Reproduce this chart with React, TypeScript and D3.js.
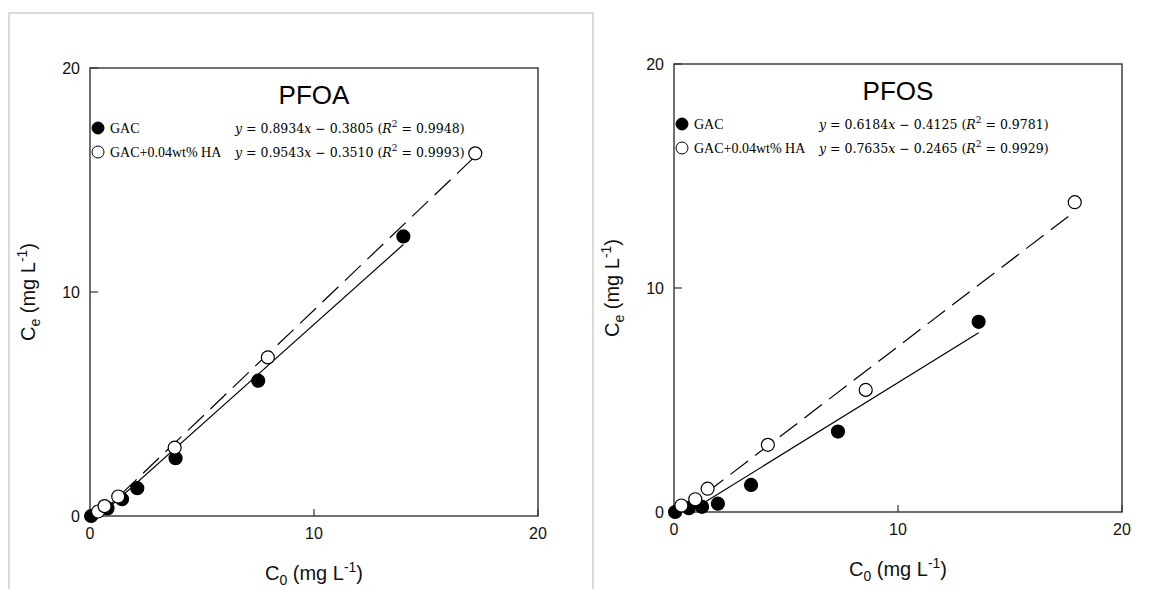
import React, { useEffect, useRef } from "react";
import { select, scaleLinear, line } from "d3";

// values (C0, Ce in mg/L)
const pfoaGacX = [0.05, 0.78, 1.43, 2.11, 3.82, 7.51, 13.99];
const pfoaGacY = [0, 0.34, 0.75, 1.24, 2.58, 6.04, 12.48];
const pfoaHaX = [0.36, 0.65, 1.26, 3.78, 7.94, 17.2];
const pfoaHaY = [0.2, 0.44, 0.87, 3.05, 7.08, 16.19];

const pfosGacX = [0.05, 0.66, 1.25, 1.96, 3.44, 7.32, 13.6];
const pfosGacY = [0, 0.17, 0.23, 0.37, 1.21, 3.59, 8.49];
const pfosHaX = [0.33, 0.95, 1.5, 4.19, 8.56, 17.89];
const pfosHaY = [0.29, 0.57, 1.04, 3.0, 5.45, 13.83];

// linear fits: [GAC, GAC+HA]
const pfoaSlopes = [0.8934, 0.9543];
const pfoaIntercepts = [-0.3805, -0.351];
const pfoaR2 = ["0.9948", "0.9993"];
const pfosSlopes = [0.6184, 0.7635];
const pfosIntercepts = [-0.4125, -0.2465];
const pfosR2 = ["0.9781", "0.9929"];

const seriesNames = ["GAC", "GAC+0.04wt% HA"];
const axisTicks = [0, 10, 20];
const titles = ["PFOA", "PFOS"];

const panels = [
  {
    title: titles[0],
    left: 90,
    top: 68,
    xs: [pfoaGacX, pfoaHaX],
    ys: [pfoaGacY, pfoaHaY],
    slopes: pfoaSlopes,
    intercepts: pfoaIntercepts,
    r2: pfoaR2,
  },
  {
    title: titles[1],
    left: 674,
    top: 64,
    xs: [pfosGacX, pfosHaX],
    ys: [pfosGacY, pfosHaY],
    slopes: pfosSlopes,
    intercepts: pfosIntercepts,
    r2: pfosR2,
  },
];

const SIZE = 448;
const SANS = "Arial, 'Liberation Sans', sans-serif";

const App = () => {
  const svgRef = useRef<SVGSVGElement>(null);

  useEffect(() => {
    const svg = select(svgRef.current);
    svg.selectAll("*").remove();

    // faint frame around the left figure
    svg
      .append("rect")
      .attr("x", 9)
      .attr("y", 13)
      .attr("width", 584)
      .attr("height", 620)
      .attr("fill", "none")
      .attr("stroke", "#cfcfcf")
      .attr("stroke-width", 1.5);

    panels.forEach((p) => {
      const xScale = scaleLinear().domain([0, 20]).range([p.left, p.left + SIZE]);
      const yScale = scaleLinear().domain([0, 20]).range([p.top + SIZE, p.top]);
      const g = svg.append("g");

      // frame
      g.append("rect")
        .attr("x", p.left)
        .attr("y", p.top)
        .attr("width", SIZE)
        .attr("height", SIZE)
        .attr("fill", "none")
        .attr("stroke", "#333")
        .attr("stroke-width", 1.4);

      // inner ticks
      axisTicks.forEach((t) => {
        g.append("line")
          .attr("x1", xScale(t))
          .attr("x2", xScale(t))
          .attr("y1", p.top + SIZE)
          .attr("y2", p.top + SIZE - 7)
          .attr("stroke", "#333")
          .attr("stroke-width", 1.2);
        g.append("line")
          .attr("x1", p.left)
          .attr("x2", p.left + 8)
          .attr("y1", yScale(t))
          .attr("y2", yScale(t))
          .attr("stroke", "#333")
          .attr("stroke-width", 1.2);
        g.append("text")
          .attr("x", xScale(t))
          .attr("y", p.top + SIZE + 23)
          .attr("text-anchor", "middle")
          .attr("font-family", SANS)
          .attr("font-size", 16)
          .attr("fill", "#111")
          .text(t);
        g.append("text")
          .attr("x", p.left - 10)
          .attr("y", yScale(t) + 6)
          .attr("text-anchor", "end")
          .attr("font-family", SANS)
          .attr("font-size", 16)
          .attr("fill", "#111")
          .text(t);
      });

      // axis titles
      const xt = g
        .append("text")
        .attr("x", xScale(10))
        .attr("y", p.top + SIZE + 64)
        .attr("text-anchor", "middle")
        .attr("font-family", SANS)
        .attr("font-size", 20)
        .attr("fill", "#111");
      xt.append("tspan").text("C");
      xt.append("tspan").attr("font-size", 14).attr("dy", 5).text("0");
      xt.append("tspan").attr("dy", -5).text(" (mg L");
      xt.append("tspan").attr("font-size", 14).attr("dy", -8).text("-1");
      xt.append("tspan").attr("dy", 8).text(")");

      const cy = yScale(10);
      const yt = g
        .append("text")
        .attr("transform", `translate(${p.left - 55},${cy}) rotate(-90)`)
        .attr("text-anchor", "middle")
        .attr("font-family", SANS)
        .attr("font-size", 20)
        .attr("fill", "#111");
      yt.append("tspan").text("C");
      yt.append("tspan").attr("font-size", 14).attr("dy", 5).text("e");
      yt.append("tspan").attr("dy", -5).text(" (mg L");
      yt.append("tspan").attr("font-size", 14).attr("dy", -8).text("-1");
      yt.append("tspan").attr("dy", 8).text(")");

      // title
      g.append("text")
        .attr("x", xScale(10))
        .attr("y", p.top + 36)
        .attr("text-anchor", "middle")
        .attr("font-family", SANS)
        .attr("font-size", 26)
        .attr("fill", "#000")
        .text(p.title);

      // fit lines
      const fitLine = line<number[]>()
        .x((d) => xScale(d[0]))
        .y((d) => yScale(d[1]));
      [0, 1].forEach((s) => {
        const x0 = -p.intercepts[s] / p.slopes[s];
        const x1 = p.xs[s][p.xs[s].length - 1];
        const pts = [x0, x1].map((x) => [x, p.slopes[s] * x + p.intercepts[s]]);
        g.append("path")
          .attr("d", fitLine(pts))
          .attr("fill", "none")
          .attr("stroke", "#000")
          .attr("stroke-width", 1.2)
          .attr("stroke-dasharray", s === 1 ? "22 9" : null);
      });

      // points: filled first, open ones on top
      [0, 1].forEach((s) => {
        g.selectAll(`.pt${s}`)
          .data(p.xs[s].map((x, i) => [x, p.ys[s][i]]))
          .join("circle")
          .attr("class", `pt${s}`)
          .attr("cx", (d) => xScale(d[0]))
          .attr("cy", (d) => yScale(d[1]))
          .attr("r", 6.5)
          .attr("fill", s === 0 ? "#000" : "#fff")
          .attr("stroke", "#000")
          .attr("stroke-width", 1.2);
      });

      // legend with equations
      [0, 1].forEach((s) => {
        const ly = p.top + 60 + s * 24;
        g.append("circle")
          .attr("cx", p.left + 8)
          .attr("cy", ly)
          .attr("r", 6)
          .attr("fill", s === 0 ? "#000" : "#fff")
          .attr("stroke", "#000")
          .attr("stroke-width", 1);
        g.append("text")
          .attr("x", p.left + 20)
          .attr("y", ly + 5)
          .attr("font-family", "'Liberation Serif', 'Times New Roman', serif")
          .attr("font-size", 14)
          .attr("fill", "#000")
          .text(seriesNames[s]);
        const eq = g
          .append("text")
          .attr("x", p.left + 145)
          .attr("y", ly + 5)
          .attr("font-family", "'DejaVu Serif', serif")
          .attr("font-size", 12.5)
          .attr("fill", "#000");
        eq.append("tspan").attr("font-style", "italic").text("y");
        eq.append("tspan").text(` = ${p.slopes[s].toFixed(4)}`);
        eq.append("tspan").attr("font-style", "italic").text("x");
        eq.append("tspan").text(` \u2212 ${Math.abs(p.intercepts[s]).toFixed(4)} (`);
        eq.append("tspan").attr("font-style", "italic").text("R");
        eq.append("tspan").attr("font-size", 9).attr("dy", -6).text("2");
        eq.append("tspan").attr("dy", 6).text(` = ${p.r2[s]})`);
      });
    });
  }, []);

  return (
    <svg
      ref={svgRef}
      width={1165}
      height={589}
      style={{ position: "absolute", left: 0, top: 0, background: "#fff" }}
    />
  );
};

export default App;
